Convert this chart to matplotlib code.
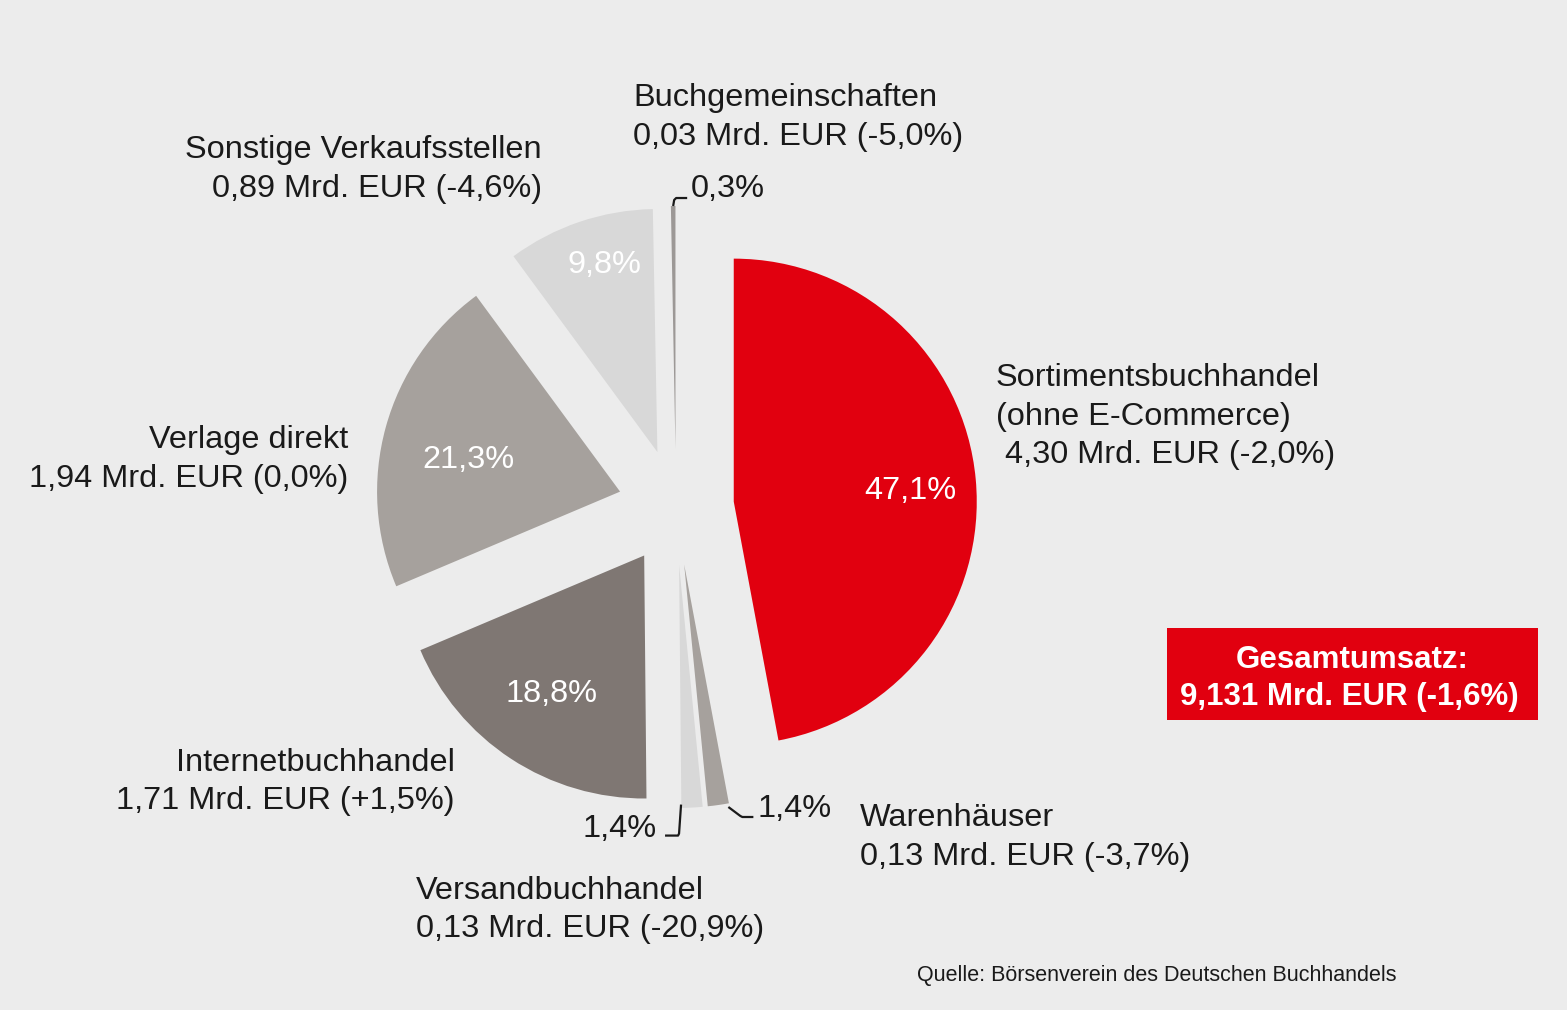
import numpy as np
import matplotlib
matplotlib.use("Agg")
import matplotlib.pyplot as plt
from matplotlib.patches import Rectangle

# Umsatzanteile nach Vertriebswegen (im Uhrzeigersinn ab 12 Uhr)
categories = ["Sortimentsbuchhandel", "Warenhäuser", "Versandbuchhandel",
              "Internetbuchhandel", "Verlage direkt", "Sonstige Verkaufsstellen",
              "Buchgemeinschaften"]
shares = [47.1, 1.4, 1.4, 18.8, 21.3, 9.8, 0.3]
revenue = ["4,30", "0,13", "0,13", "1,71", "1,94", "0,89", "0,03"]
change = ["-2,0%", "-3,7%", "-20,9%", "+1,5%", "0,0%", "-4,6%", "-5,0%"]
colors = ["#E1000F", "#A6A19D", "#D8D8D8", "#7F7773", "#A6A19D", "#D8D8D8", "#9C9896"]

W, H = 1567, 1010
BG = "#ECECEC"
FS = 23.4
plt.rcParams["font.family"] = ["Liberation Sans", "DejaVu Sans"]

fig = plt.figure(figsize=(W / 100, H / 100), dpi=100, facecolor=BG)
ax = fig.add_axes([0, 0, 1, 1])
ax.set_facecolor(BG)


def iy(y):
    # Bildkoordinate (oben=0) -> Datenkoordinate, Text leicht nach unten
    return H - y


def ty(y):
    return H - y - 3


cx, cy, r = 676, iy(507), 243
wedges, _ = ax.pie(shares, colors=colors, startangle=90, counterclock=False,
                   center=(cx, cy), radius=r, explode=[58] * len(shares),
                   wedgeprops=dict(linewidth=0))
ax.set_xlim(0, W)
ax.set_ylim(0, H)
ax.set_aspect("equal")
ax.axis("off")


def pct(v):
    return f"{v:.1f}".replace(".", ",") + "%"


# Prozentwerte in den grossen Segmenten
inner_pos = {0: (910, 488), 3: (551, 691), 4: (468, 457), 5: (604, 262)}
for i, (x, y) in inner_pos.items():
    ax.text(x, ty(y), pct(shares[i]), color="white", fontsize=FS,
            ha="center", va="center")


def anchor(w):
    t = np.deg2rad((w.theta1 + w.theta2) / 2)
    return w.center[0] + w.r * np.cos(t), w.center[1] + w.r * np.sin(t)


# Fuehrungslinien fuer die kleinen Segmente (Offsets in Pixeln, y nach unten)
leaders = {
    6: ([(0, 0), (1, -6), (3, -8), (14, -8)], (691, 186), "left"),
    2: ([(-11, -3), (-13, 26), (-14, 28), (-27, 28)], (657, 826), "right"),
    1: ([(10, 2), (22, 11), (24, 12), (35, 12)], (757, 806), "left"),
}
for i, (offs, (tx, tyy), ha) in leaders.items():
    ax_, ay_ = anchor(wedges[i])
    xs = [ax_ + dx for dx, dy in offs]
    ys = [ay_ - dy for dx, dy in offs]
    ax.plot(xs, ys, color="#1A1A1A", lw=1.6, solid_capstyle="butt")
    ax.text(tx, ty(tyy), pct(shares[i]), color="#1A1A1A", fontsize=FS,
            ha=ha, va="center")

# Kategorie-Beschriftungen
labels = {
    0: ([categories[0], "(ohne E-Commerce)", f" {revenue[0]} Mrd. EUR ({change[0]})"], 996, 375, "left"),
    1: ([categories[1], f"{revenue[1]} Mrd. EUR ({change[1]})"], 860, 815, "left"),
    2: ([categories[2], f"{revenue[2]} Mrd. EUR ({change[2]})"], 416, 888, "left"),
    3: ([categories[3], f"{revenue[3]} Mrd. EUR ({change[3]})"], 455, 760, "right"),
    4: ([categories[4], f"{revenue[4]} Mrd. EUR ({change[4]})"], 348, 437, "right"),
    5: ([categories[5], f"{revenue[5]} Mrd. EUR ({change[5]})"], 542, 147, "right"),
    6: ([categories[6], f"{revenue[6]} Mrd. EUR ({change[6]})"], 633, 95, "left"),
}
for i, (lines, x, y, ha) in labels.items():
    for k, line in enumerate(lines):
        ax.text(x, ty(y + 38.5 * k), line, color="#1A1A1A", fontsize=FS,
                ha=ha, va="center")

# Gesamtumsatz-Box
ax.add_patch(Rectangle((1167, iy(720)), 371, 92, facecolor="#E1000F",
                       edgecolor="none"))
ax.text(1352, ty(657), "Gesamtumsatz:", color="white", fontsize=22.5,
        fontweight="bold", ha="center", va="center")
ax.text(1349, ty(694), "9,131 Mrd. EUR (-1,6%)", color="white", fontsize=22.5,
        fontweight="bold", ha="center", va="center")

ax.text(917, ty(972), "Quelle: Börsenverein des Deutschen Buchhandels",
        color="#1A1A1A", fontsize=15.5, ha="left", va="center")

fig.savefig("out.png", dpi=100, facecolor=BG)
